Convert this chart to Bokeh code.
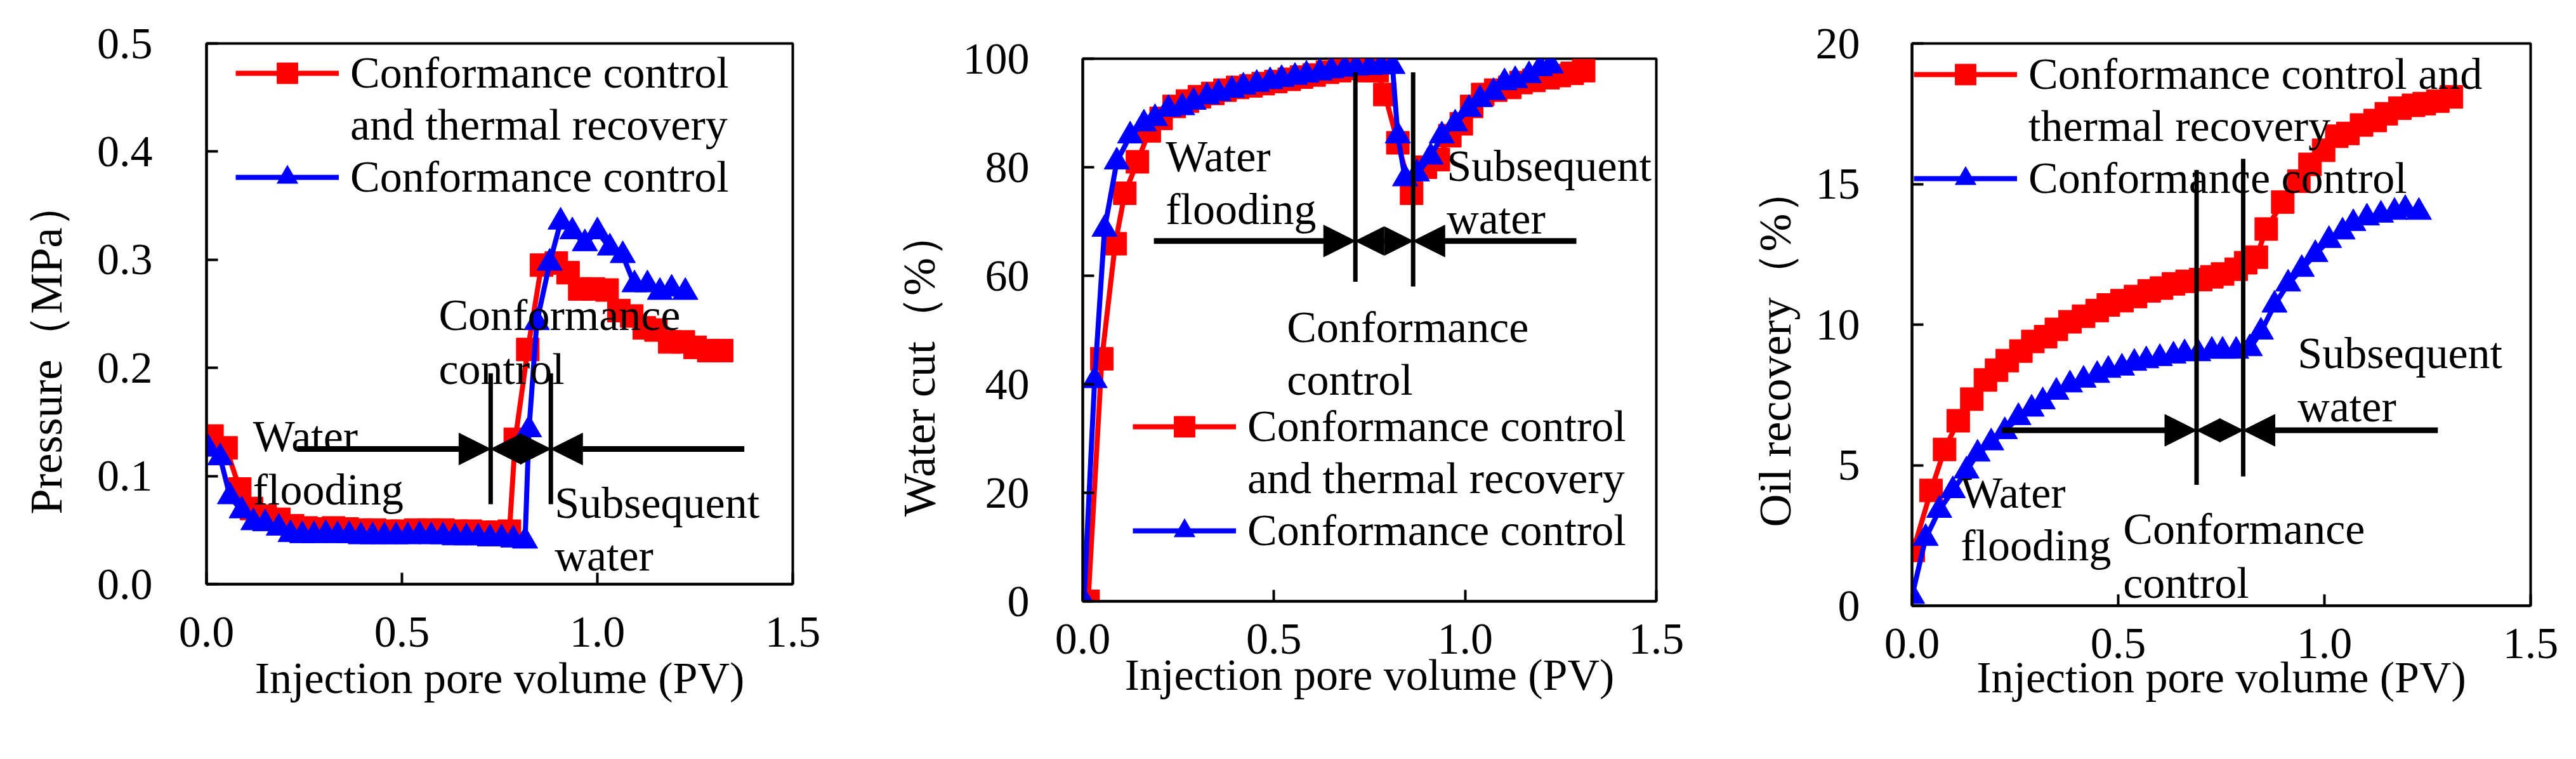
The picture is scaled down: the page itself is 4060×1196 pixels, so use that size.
from bokeh.plotting import figure
from bokeh.layouts import row
from bokeh.models import Range1d, FixedTicker, Legend, LegendItem, Arrow, NormalHead, NumeralTickFormatter
from bokeh.core.properties import value
from bokeh.embed import file_html
from bokeh.resources import INLINE

FONT = "Liberation Serif"
FS = "70px"
FS_Y = "72px"
RED = "#FF0000"
BLUE = "#0000FF"
NB = "\u00a0"

# ---------------- data ----------------
# Panel 1: pressure (MPa)
pv_p_red = [0.014, 0.05, 0.085, 0.115, 0.15, 0.185, 0.22, 0.255, 0.29, 0.325, 0.36, 0.395,
            0.43, 0.465, 0.5, 0.535, 0.57, 0.605, 0.64, 0.675, 0.71, 0.745, 0.775, 0.79,
            0.822, 0.857, 0.895, 0.925, 0.955, 0.99, 1.025, 1.055, 1.088, 1.12, 1.15, 1.185,
            1.22, 1.25, 1.285, 1.318]
p_red = [0.137, 0.126, 0.088, 0.070, 0.063, 0.060, 0.054, 0.052, 0.051, 0.052, 0.051, 0.050,
         0.050, 0.049, 0.049, 0.050, 0.050, 0.050, 0.049, 0.049, 0.048, 0.048, 0.049, 0.134,
         0.217, 0.295, 0.297, 0.288, 0.273, 0.273, 0.272, 0.253, 0.248, 0.237, 0.235, 0.224,
         0.224, 0.219, 0.216, 0.216]
pv_p_blue = [0.005, 0.035, 0.06, 0.09, 0.12, 0.15, 0.185, 0.215, 0.245, 0.275, 0.305, 0.335,
             0.365, 0.395, 0.425, 0.455, 0.485, 0.515, 0.545, 0.575, 0.605, 0.635, 0.665, 0.695,
             0.725, 0.755, 0.785, 0.815, 0.825, 0.845, 0.878, 0.906, 0.936, 0.968, 1.0, 1.032,
             1.065, 1.095, 1.128, 1.16, 1.19, 1.225]
p_blue = [0.125, 0.117, 0.081, 0.068, 0.057, 0.056, 0.052, 0.046, 0.045, 0.045, 0.046, 0.045,
          0.045, 0.044, 0.044, 0.044, 0.044, 0.044, 0.045, 0.044, 0.044, 0.043, 0.043, 0.043,
          0.042, 0.042, 0.041, 0.040, 0.143, 0.242, 0.297, 0.335, 0.326, 0.315, 0.326, 0.311,
          0.304, 0.277, 0.277, 0.270, 0.273, 0.270]

# Panel 2: water cut (%)
pv_wc_red = [0.014, 0.05, 0.085, 0.11, 0.143, 0.174, 0.205, 0.239, 0.274, 0.305, 0.34, 0.372,
             0.405, 0.44, 0.472, 0.505, 0.54, 0.572, 0.605, 0.64, 0.672, 0.705, 0.74, 0.77,
             0.79, 0.824, 0.86, 0.896, 0.93, 0.96, 0.99, 1.017, 1.046, 1.08, 1.117, 1.146,
             1.18, 1.217, 1.246, 1.28, 1.31]
wc_red = [0.0, 44.7, 65.9, 75.2, 81.0, 86.7, 89.0, 91.2, 92.2, 93.0, 93.6, 94.2,
          94.7, 95.0, 95.4, 95.8, 96.2, 96.6, 97.0, 97.5, 97.8, 98.2, 97.8, 97.8,
          93.4, 84.5, 75.2, 80.0, 81.4, 85.8, 88.0, 91.2, 93.4, 94.2, 94.7, 95.6,
          96.0, 96.5, 96.9, 97.3, 97.8]
pv_wc_blue = [0.003, 0.031, 0.057, 0.089, 0.124, 0.16, 0.189, 0.224, 0.26, 0.29, 0.325, 0.355,
              0.39, 0.42, 0.455, 0.49, 0.52, 0.555, 0.585, 0.62, 0.65, 0.685, 0.715, 0.75,
              0.78, 0.81, 0.824, 0.843, 0.874, 0.91, 0.939, 0.974, 1.01, 1.039, 1.074, 1.103,
              1.131, 1.167, 1.196, 1.224]
wc_blue = [0.0, 40.7, 68.6, 81.0, 85.8, 88.0, 89.0, 90.7, 91.0, 92.0, 93.0, 93.6,
           94.2, 94.8, 95.3, 95.8, 96.2, 96.6, 97.0, 97.4, 97.8, 98.1, 98.3, 98.4,
           98.5, 98.6, 85.8, 77.9, 78.8, 81.9, 85.8, 88.0, 90.7, 92.5, 93.8, 95.6,
           96.0, 96.9, 98.2, 98.7]

# Panel 3: oil recovery (%)
pv_or_red = [0.003, 0.046, 0.079, 0.112, 0.145, 0.178, 0.205, 0.231, 0.264, 0.293, 0.324, 0.35,
             0.383, 0.416, 0.449, 0.476, 0.509, 0.542, 0.575, 0.605, 0.634, 0.667, 0.70, 0.727,
             0.753, 0.786, 0.809, 0.835, 0.859, 0.899, 0.938, 0.965, 0.998, 1.03, 1.057, 1.09,
             1.123, 1.15, 1.183, 1.216, 1.242, 1.275, 1.308]
or_red = [1.97, 4.1, 5.56, 6.58, 7.35, 8.03, 8.38, 8.72, 9.06, 9.4, 9.57, 9.83,
          10.1, 10.3, 10.5, 10.7, 10.85, 11.0, 11.2, 11.3, 11.45, 11.54, 11.6, 11.7,
          11.8, 11.97, 12.2, 12.4, 13.4, 14.36, 15.1, 15.7, 16.2, 16.7, 16.8, 17.1,
          17.26, 17.5, 17.7, 17.8, 17.86, 17.95, 18.1]
pv_or_blue = [0.0, 0.033, 0.066, 0.099, 0.132, 0.159, 0.192, 0.225, 0.258, 0.29, 0.317, 0.35,
              0.383, 0.416, 0.449, 0.476, 0.509, 0.539, 0.568, 0.601, 0.634, 0.661, 0.694, 0.727,
              0.753, 0.786, 0.819, 0.846, 0.879, 0.912, 0.945, 0.978, 1.011, 1.044, 1.07, 1.103,
              1.137, 1.17, 1.196, 1.229]
or_blue = [0.34, 2.4, 3.4, 4.1, 4.8, 5.4, 5.8, 6.2, 6.7, 7.0, 7.26, 7.6,
           7.86, 8.03, 8.2, 8.38, 8.46, 8.63, 8.72, 8.8, 8.89, 8.97, 8.97, 9.06,
           9.06, 9.06, 9.15, 9.74, 10.7, 11.45, 11.97, 12.5, 13.0, 13.3, 13.6, 13.8,
           13.9, 14.0, 14.1, 14.0]

# ticks
x_ticks = [0.0, 0.5, 1.0, 1.5]
x_tick_labels = ["0.0", "0.5", "1.0", "1.5"]
p_ticks = [0.0, 0.1, 0.2, 0.3, 0.4, 0.5]
p_tick_labels = ["0.0", "0.1", "0.2", "0.3", "0.4", "0.5"]
wc_ticks = [0, 20, 40, 60, 80, 100]
wc_tick_labels = ["0", "20", "40", "60", "80", "100"]
or_ticks = [0, 5, 10, 15, 20]
or_tick_labels = ["0", "5", "10", "15", "20"]

x_title = "Injection pore volume (PV)"
y_titles = ["Pressure（MPa）", "Water cut（%）", "Oil recovery（%）"]
legend_red_a = ["Conformance control", "and thermal recovery"]
legend_red_b = ["Conformance control and", "thermal recovery"]
legend_blue = "Conformance control"

# stage boundaries (PV) and stage labels
stage_p = [0.727, 0.881]
stage_wc = [0.713, 0.864]
stage_or = [0.69, 0.803]
stage_text = ["Water", "flooding", "Conformance", "control", "Subsequent", "water"]


def style_axes(p, xlab_stand, ylab_stand, x_std, y_std):
    for ax in (p.xaxis[0], p.yaxis[0]):
        ax.axis_line_color = "black"
        ax.axis_line_width = 4
        ax.major_tick_in = 18
        ax.major_tick_out = 0
        ax.major_tick_line_width = 4
        ax.major_tick_line_color = "black"
        ax.minor_tick_line_color = None
        ax.major_label_text_font = FONT
        ax.major_label_text_font_size = FS
        ax.major_label_text_color = "black"
        ax.axis_label_text_font = FONT
        ax.axis_label_text_font_style = "normal"
        ax.axis_label_text_color = "black"
    p.xaxis[0].axis_label_text_font_size = FS
    p.yaxis[0].axis_label_text_font_size = FS_Y
    p.xaxis[0].major_label_standoff = x_std
    p.yaxis[0].major_label_standoff = y_std
    p.xaxis[0].axis_label_standoff = xlab_stand
    p.yaxis[0].axis_label_standoff = ylab_stand
    p.xgrid.visible = False
    p.ygrid.visible = False
    p.outline_line_color = "black"
    p.outline_line_width = 4
    p.outline_line_alpha = 1


def panel(width, height, borders, top_margin, yr, yticks, ylabels, ylabel,
          xr_data, yr_data, xb_data, yb_data, stages, seg_y, arrow_y, heads,
          arrow_left, arrow_right, txt_x, txt_y, leg_labels, leg_loc,
          x_std, xlab_stand, ylab_stand, y_std, yfmt):
    l, r, t, b = borders
    p = figure(width=width, height=height, output_backend="svg", toolbar_location=None,
               x_range=Range1d(0, 1.5), y_range=Range1d(*yr),
               min_border_left=l, min_border_right=r, min_border_top=t, min_border_bottom=b,
               x_axis_label=x_title, y_axis_label=ylabel)
    p.margin = (top_margin, 0, 0, 0)
    p.align = "start"
    p.xaxis[0].ticker = FixedTicker(ticks=x_ticks)
    p.xaxis[0].formatter = NumeralTickFormatter(format="0.0")
    p.xaxis[0].major_label_overrides = dict(zip(x_ticks, x_tick_labels))
    p.yaxis[0].ticker = FixedTicker(ticks=yticks)
    p.yaxis[0].formatter = NumeralTickFormatter(format=yfmt)
    p.yaxis[0].major_label_overrides = dict(zip(yticks, ylabels))
    style_axes(p, xlab_stand, ylab_stand, x_std, y_std)

    rl = p.line(xr_data, yr_data, line_color=RED, line_width=8)
    rs = p.scatter(xr_data, yr_data, marker="square", size=36, fill_color=RED, line_color=RED)
    bl = p.line(xb_data, yb_data, line_color=BLUE, line_width=8)
    bs = p.scatter(xb_data, yb_data, marker="triangle", size=40, fill_color=BLUE, line_color=BLUE)
    dummy = p.line([], [], line_alpha=0)

    # stage boundaries
    p.segment(x0=stages, y0=[seg_y[0][0], seg_y[1][0]], x1=stages,
              y1=[seg_y[0][1], seg_y[1][1]], line_color="black", line_width=7)
    # arrows
    hs, ds = heads
    p.add_layout(Arrow(x_start=arrow_left, y_start=arrow_y, x_end=stages[0], y_end=arrow_y,
                       line_width=9, line_color="black",
                       end=NormalHead(size=hs, fill_color="black", line_color="black")))
    p.add_layout(Arrow(x_start=arrow_right, y_start=arrow_y, x_end=stages[1], y_end=arrow_y,
                       line_width=9, line_color="black",
                       end=NormalHead(size=hs, fill_color="black", line_color="black")))
    p.add_layout(Arrow(x_start=stages[0], y_start=arrow_y, x_end=stages[1], y_end=arrow_y,
                       line_width=9, line_color="black",
                       start=NormalHead(size=ds, fill_color="black", line_color="black"),
                       end=NormalHead(size=ds, fill_color="black", line_color="black")))
    p.text(x=txt_x, y=txt_y, text=stage_text, text_font=value(FONT), text_font_size=value(FS),
           text_color="black", text_align="left", text_baseline="alphabetic")

    items = [LegendItem(label=leg_labels[0], renderers=[rl, rs]),
             LegendItem(label=leg_labels[1], renderers=[dummy]),
             LegendItem(label=legend_blue, renderers=[bl, bs])]
    leg = Legend(items=items, location=leg_loc, glyph_width=163, glyph_height=82,
                 label_standoff=18, spacing=0, padding=0, margin=0,
                 background_fill_alpha=0, border_line_alpha=0,
                 label_text_font=FONT, label_text_font_size=FS, label_text_color="black")
    p.add_layout(leg)
    return p


# common top/bottom borders; vertical offsets through the top margin
p1 = panel(1342, 1146, (325, 93, 68, 226), 0, (0, 0.5), p_ticks, p_tick_labels,
           y_titles[0] + NB * 6,
           pv_p_red, p_red, pv_p_blue, p_blue, stage_p,
           [(0.074, 0.195), (0.074, 0.195)], 0.125, (50, 48), 0.232, 1.376,
           [0.119, 0.119, 0.594, 0.594, 0.891, 0.891],
           [0.137, 0.0877, 0.249, 0.199, 0.0754, 0.0266],
           legend_red_a, (46, 600), 52, 8, 37, 85, "0.0")

p2 = panel(1350, 1149, (364, 82, 68, 226), 24, (0, 100), wc_ticks, wc_tick_labels,
           y_titles[1] + NB * 6,
           pv_wc_red, wc_red, pv_wc_blue, wc_blue, stage_wc,
           [(58.9, 97.5), (58.0, 97.5)], 66.4, (50, 45), 0.186, 1.291,
           [0.217, 0.217, 0.534, 0.534, 0.952, 0.952],
           [82.0, 72.3, 50.5, 40.8, 80.2, 70.5],
           legend_red_a, (79, 70), 36, -8, 26, 84, "0")

p3 = panel(1350, 1180, (321, 54, 68, 226), 0, (0, 20), or_ticks, or_tick_labels,
           y_titles[2] + NB * 4,
           pv_or_red, or_red, pv_or_blue, or_blue, stage_or,
           [(4.3, 15.5), (4.6, 15.9)], 6.24, (50, 37), 0.218, 1.275,
           [0.118, 0.118, 0.512, 0.512, 0.935, 0.935],
           [4.02, 2.14, 2.73, 0.81, 8.98, 7.09],
           legend_red_b, (3, 632), 36, -11, 21, 82, "0")

layout = row(p1, p2, p3, spacing=0)
open("out.html", "w").write(file_html(layout, INLINE))
